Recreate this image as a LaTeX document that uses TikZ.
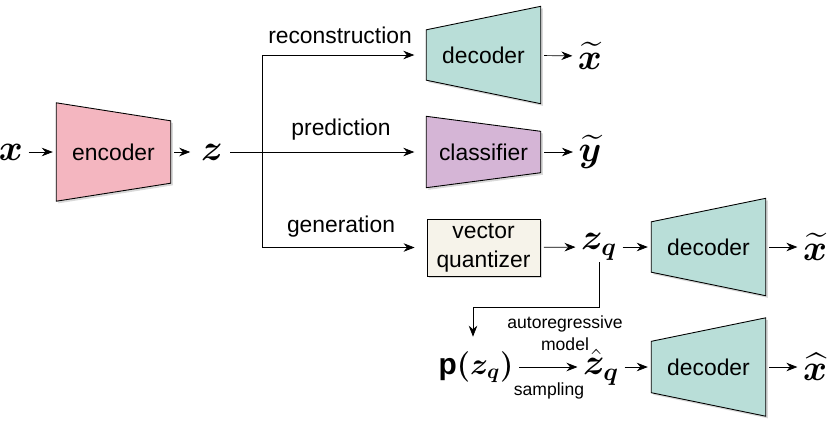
\documentclass[tikz,border=0pt]{standalone}
\usepackage{fontspec}
\setmainfont{Liberation Sans}
\usepackage{amsmath}
\usepackage{bm}
\usetikzlibrary{arrows.meta,calc,shadows}
\definecolor{encpink}{RGB}{244,182,192}
\definecolor{decteal}{RGB}{185,222,216}
\definecolor{clspurple}{RGB}{213,181,214}
\definecolor{vqbeige}{RGB}{246,243,234}
\pgfdeclarelayer{background}
\pgfsetlayers{background,main}
\tikzset{softshadow/.style={drop shadow={shadow xshift=1.2pt,shadow yshift=-1.2pt,opacity=0.3}}}
% trapezoid behind a node: node, left inset, right inset, fill
\newcommand{\trapshape}[4]{%
  \begin{pgfonlayer}{background}
    \path[fill=#4, draw=black, line width=0.5pt, softshadow]
      ($(#1.north west)+(0,-#2)$) -- ($(#1.north east)+(0,-#3)$) --
      ($(#1.south east)+(0,#3)$) -- ($(#1.south west)+(0,#2)$) -- cycle;
  \end{pgfonlayer}}

\begin{document}
\begin{tikzpicture}[>={Stealth[length=2.2mm,width=1.7mm]}, line width=0.8pt,
    link/.style={->, shorten <=2pt, shorten >=2pt}]
  \useasboundingbox (0,0) rectangle (16.6,-8.42);
  \begin{scope}[every node/.style={minimum width=2.26cm, inner sep=0pt, align=center,
      font=\fontsize{13}{16.5}\selectfont}]
    \node[minimum height=1.94cm] (enc) at (2.27,-3.04) {encoder};
    \node[minimum height=1.92cm] (dec1) at (9.67,-1.1) {decoder};
    \node[minimum height=1.4cm] (cls) at (9.67,-3.04) {classifier};
    \node[minimum height=1.14cm, draw, line width=0.5pt, fill=vqbeige, softshadow] (vq) at (9.67,-4.95) {vector\\quantizer};
    \node[minimum height=1.92cm] (dec2) at (14.17,-4.94) {decoder};
    \node[minimum height=1.94cm] (dec3) at (14.17,-7.34) {decoder};
  \end{scope}
  \trapshape{enc}{0cm}{0.36cm}{encpink}
  \trapshape{dec1}{0.47cm}{0cm}{decteal}
  \trapshape{cls}{0cm}{0.3cm}{clspurple}
  \trapshape{dec2}{0.47cm}{0cm}{decteal}
  \trapshape{dec3}{0.47cm}{0cm}{decteal}

  \begin{scope}[every node/.style={inner sep=1pt, font=\fontsize{20}{24}\selectfont}]
    \node (xin) at (0.22,-3.04) {$\bm{x}$};
    \node[inner sep=4pt] (z) at (4.24,-3.04) {$\bm{z}$};
    \node (xt1) at (11.8,-1.12) {$\widetilde{\bm{x}}$};
    \node (yt) at (11.8,-3.04) {$\widetilde{\bm{y}}$};
    \node (zq) at (11.98,-4.94) {$\bm{z_q}$};
    \node (xt2) at (16.3,-4.94) {$\widetilde{\bm{x}}$};
    \node[font=\fontsize{17}{20}\selectfont] (pz) at (9.52,-7.34) {\bfseries p$\bm{(z_q)}$};
    \node (zh) at (12.02,-7.34) {$\hat{\bm{z}}_{\bm{q}}$};
    \node (xh) at (16.3,-7.34) {$\widehat{\bm{x}}$};
  \end{scope}

  \begin{scope}[every node/.style={font=\fontsize{13}{16}\selectfont}]
    \node at (6.8,-0.7) {reconstruction};
    \node at (6.82,-2.6) {prediction};
    \node at (6.82,-4.54) {generation};
  \end{scope}
  \begin{scope}[every node/.style={font=\fontsize{10}{12.5}\selectfont, align=center}]
    \node at (11.3,-6.66) {autoregressive\\model};
    \node at (10.98,-7.82) {sampling};
  \end{scope}

  \coordinate (split) at (5.24,-3.04);
  \coordinate (turn) at (9.46,-6.14);
  \draw[link] (xin) -- (enc);
  \draw[link] (enc) -- (z);
  \draw[->, shorten >=0.24cm] (z) -- (cls);
  \draw[->, shorten >=0.24cm] (split) |- (dec1.west);
  \draw[->, shorten >=0.24cm] (split) |- (vq.west);
  \draw[link] (dec1) -- (xt1);
  \draw[link] (cls) -- (yt);
  \draw[link] (vq) -- (zq);
  \draw[link] (zq) -- (dec2);
  \draw[link] (dec2) -- (xt2);
  \draw[->] (zq.south) |- (turn) -- ($(turn |- pz.north)+(0,0.25)$);
  \draw[link] (pz) -- (zh);
  \draw[link] (zh) -- (dec3);
  \draw[link] (dec3) -- (xh);
\end{tikzpicture}
\end{document}
